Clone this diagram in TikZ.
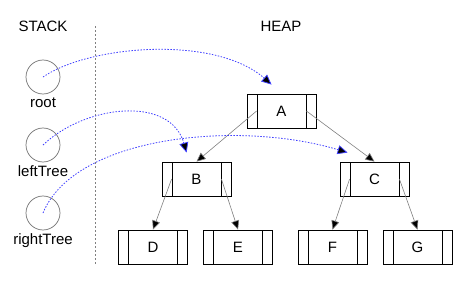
\documentclass[tikz,border=0pt]{standalone}
\usepackage{fontspec}
\setmainfont{Liberation Sans}
\usepackage{tikz}
\usetikzlibrary{positioning,arrows.meta}

\begin{document}
\begin{tikzpicture}[
        x=1pt, y=1pt,
        every node/.style={font=\fontsize{15}{18}\selectfont},
        var/.style={circle, draw=gray!90!black, line width=0.7pt, minimum size=34pt, inner sep=0pt},
        cell/.style={draw=black, line width=0.8pt, minimum width=69pt, minimum height=34pt, inner sep=0pt,
            path picture={
                \draw[line width=0.8pt] ([xshift=10pt]path picture bounding box.north west) -- ([xshift=10pt]path picture bounding box.south west);
                \draw[line width=0.8pt] ([xshift=-10pt]path picture bounding box.north east) -- ([xshift=-10pt]path picture bounding box.south east);
            }},
        link/.style={draw=gray, line width=0.6pt, -{Triangle[length=9pt,width=8pt,fill=black]}},
        ref/.style={draw=blue!75, line width=0.8pt, dash pattern=on 1.5pt off 1.5pt,
            -{Triangle[length=10pt,width=9pt,fill=black,line width=0.8pt]}}
    ]
        \useasboundingbox (0,0) rectangle (459,-289);

        \node (stack) at (43,-26) {STACK};
        \node (heap) at (281,-26) {HEAP};
        \draw[gray, line width=0.6pt, dash pattern=on 2pt off 2pt] (95,-26) -- (95,-265);

        \node[var] (root) at (43,-77) {};
        \node[var] (leftTree) at (43,-145) {};
        \node[var] (rightTree) at (43,-213) {};
        \node[below=0pt of root] (rootname) {root};
        \node[below=0pt of leftTree] (leftTreename) {leftTree};
        \node[below=0pt of rightTree] (rightTreename) {rightTree};

        \node[cell] (A) at (281.5,-111) {A};
        \node[cell] (B) at (196.5,-179) {B};
        \node[cell] (C) at (374.5,-179) {C};
        \node[cell] (D) at (153,-247) {D};
        \node[cell] (E) at (238,-247) {E};
        \node[cell] (F) at (332.5,-247) {F};
        \node[cell] (G) at (417.5,-247) {G};

        \draw[link] ([xshift=10pt]A.west) -- (B.north);
        \draw[link] ([xshift=-10pt]A.east) -- (C.north);
        \draw[link] ([xshift=10pt]B.west) -- (D.north);
        \draw[link] ([xshift=-10pt]B.east) -- (E.north);
        \draw[link] ([xshift=10pt]C.west) -- (F.north);
        \draw[link] ([xshift=-10pt]C.east) -- (G.north);

        \coordinate (rootref) at ([xshift=25pt,yshift=9pt]A.north west);
        \coordinate (leftref) at ([xshift=25pt,yshift=9pt]B.north west);
        \coordinate (rightref) at ([xshift=8pt,yshift=9pt]C.north west);

        \draw[ref] (root.center) .. controls (90,-45) and (215,-35) .. (rootref);
        \draw[ref] (leftTree.center) .. controls (85,-105) and (170,-95) .. (leftref);
        \draw[ref] (rightTree.center) .. controls (75,-135) and (240,-120) .. (rightref);
    \end{tikzpicture}
\end{document}
